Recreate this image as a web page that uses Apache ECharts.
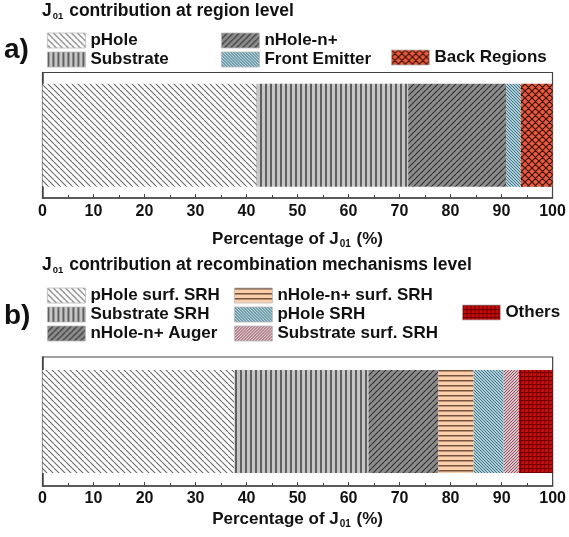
<!DOCTYPE html>
<html>
<head>
<meta charset="utf-8">
<script src="https://cdn.jsdelivr.net/npm/echarts@6/dist/echarts.min.js"></script>
<style>
  html, body { margin: 0; padding: 0; background: #fff; }
  #chart { width: 569px; height: 537px; }
</style>
</head>
<body>
<div id="chart"></div>
<script>
// Region-level breakdown of J01 (%)
const regionNames = ['pHole', 'Substrate', 'nHole-n+', 'Front Emitter', 'Back Regions'];
const regionValues = [42.0, 29.7, 19.2, 2.9, 6.2];

// Recombination-mechanism breakdown of J01 (%)
const mechNames = ['pHole surf. SRH', 'Substrate SRH', 'nHole-n+ Auger', 'nHole-n+ surf. SRH',
                   'pHole SRH', 'Substrate surf. SRH', 'Others'];
const mechValues = [37.6, 26.3, 13.7, 6.9, 5.9, 3.0, 6.6];

// Axis ticks
const axisMin = 0, axisMax = 100, axisStep = 10;

// ---- hatch fills drawn into small repeating tiles ----
function tile(size, bg, draw) {
  const c = document.createElement('canvas');
  c.width = size; c.height = size;
  const g = c.getContext('2d');
  g.fillStyle = bg; g.fillRect(0, 0, size, size);
  draw(g, size);
  return { image: c, repeat: 'repeat' };
}
function diag(dir, s, bg, fg, lw) {           // dir: 1 = '/', -1 = '\'
  return tile(s, bg, (g) => {
    g.strokeStyle = fg; g.lineWidth = lw;
    g.beginPath();
    for (let k = -1; k <= 1; k++) {
      if (dir > 0) { g.moveTo(k * s, s); g.lineTo(k * s + s, 0); }
      else { g.moveTo(k * s, 0); g.lineTo(k * s + s, s); }
    }
    g.stroke();
  });
}
function cross(s, bg, fg, lw) {
  return tile(s, bg, (g) => {
    g.strokeStyle = fg; g.lineWidth = lw;
    g.beginPath();
    for (let k = -1; k <= 1; k++) {
      g.moveTo(k * s, s); g.lineTo(k * s + s, 0);
      g.moveTo(k * s, 0); g.lineTo(k * s + s, s);
    }
    g.stroke();
  });
}
function vlines(s, bg, fg, lw) {
  return tile(s, bg, (g) => { g.fillStyle = fg; g.fillRect(0, 0, lw, s); });
}
function hlines(s, bg, fg, lw) {
  return tile(s, bg, (g) => { g.fillStyle = fg; g.fillRect(0, 0, s, lw); });
}
function grid(s, bg, fg, lw) {
  return tile(s, bg, (g) => { g.fillStyle = fg; g.fillRect(0, 0, lw, s); g.fillRect(0, 0, s, lw); });
}

const fills = {
  pHoleSurf: diag(-1, 6, '#ffffff', '#6a6a6a', 1.1),
  substrate: vlines(5, '#c6c6c6', '#606060', 2),
  nHole: diag(1, 6, '#8c8c8c', '#333333', 1.2),
  blue: diag(-1, 3, '#a9d2de', '#35545e', 0.8),
  back: cross(7, '#ea5a3c', '#3a1208', 1.2),
  peach: hlines(5, '#fbcfac', '#76523f', 1.5),
  pink: diag(1, 3, '#e6c0c8', '#63404a', 0.8),
  others: grid(4, '#c80c0c', '#720000', 1.1)
};

const regionFills = [fills.pHoleSurf, fills.substrate, fills.nHole, fills.blue, fills.back];
const mechFills = [fills.pHoleSurf, fills.substrate, fills.nHole, fills.peach, fills.blue, fills.pink, fills.others];

const FONT = 'Liberation Sans, Arial, sans-serif';

function xAxisCfg(gridIndex, nameGap, labelMargin) {
  return {
    type: 'value', gridIndex, min: axisMin, max: axisMax, interval: axisStep,
    name: '{t|Percentage of J}{s|01}{t| (%)}',
    nameLocation: 'middle', nameGap,
    nameTextStyle: {
      rich: {
        t: { fontFamily: FONT, fontSize: 17, fontWeight: 'bold', color: '#111' },
        s: { fontFamily: FONT, fontSize: 10, fontWeight: 'bold', color: '#111', padding: [9, 1, 0, 1] }
      }
    },
    axisLine: { show: true, lineStyle: { color: '#444', width: 1.5 } },
    axisTick: { show: true, inside: true, length: 4, lineStyle: { color: '#444' } },
    minorTick: { show: true, splitNumber: 2, length: 3, lineStyle: { color: '#444' } },
    splitLine: { show: false },
    axisLabel: { margin: labelMargin, fontFamily: FONT, fontSize: 16, fontWeight: 'bold', color: '#111' }
  };
}
function yAxisCfg(gridIndex) {
  return {
    type: 'category', gridIndex, data: [''],
    axisLine: { show: true, lineStyle: { color: '#444', width: 1.5 } },
    axisTick: { show: false }, axisLabel: { show: false }
  };
}

const series = [];
regionNames.forEach((n, i) => series.push({
  name: n, type: 'bar', stack: 'region', xAxisIndex: 0, yAxisIndex: 0,
  barWidth: 103, itemStyle: { color: regionFills[i] }, data: [regionValues[i]]
}));
mechNames.forEach((n, i) => series.push({
  name: n, type: 'bar', stack: 'mech', xAxisIndex: 1, yAxisIndex: 1,
  barWidth: 103, itemStyle: { color: mechFills[i] }, data: [mechValues[i]]
}));

function legendCol(data, left, top) {
  return {
    data, left, top, orient: 'vertical', itemWidth: 38, itemHeight: 15, itemGap: 2,
    icon: 'rect', selectedMode: false, padding: 0,
    itemStyle: { borderColor: '#b8b8b8', borderWidth: 0.8 },
    textStyle: { fontFamily: FONT, fontSize: 17, fontWeight: 'bold', color: '#111' }
  };
}

const titleRich = {
  t: { fontFamily: FONT, fontSize: 17.5, fontWeight: 'bold', color: '#111' },
  s: { fontFamily: FONT, fontSize: 9.5, fontWeight: 'bold', color: '#111', padding: [10, 1, 0, 1] }
};

const option = {
  animation: false,
  backgroundColor: '#fff',
  title: [
    { text: '{t|J}{s|01}{t| contribution at region level}', left: 42, top: 1, padding: 0,
      textStyle: { rich: titleRich } },
    { text: 'a)', left: 4, top: 36, padding: 0,
      textStyle: { fontFamily: FONT, fontSize: 28, fontWeight: 'bold', color: '#111' } },
    { text: '{t|J}{s|01}{t| contribution at recombination mechanisms level}', left: 42, top: 255, padding: 0,
      textStyle: { rich: titleRich } },
    { text: 'b)', left: 4, top: 302, padding: 0,
      textStyle: { fontFamily: FONT, fontSize: 28, fontWeight: 'bold', color: '#111' } }
  ],
  legend: [
    legendCol(['pHole', 'Substrate'], 47, 32),
    legendCol(['nHole-n+', 'Front Emitter'], 221, 32),
    legendCol(['Back Regions'], 391, 49),
    legendCol(['pHole surf. SRH', 'Substrate SRH', 'nHole-n+ Auger'], 47, 287),
    legendCol(['nHole-n+ surf. SRH', 'pHole SRH', 'Substrate surf. SRH'], 234, 287),
    legendCol(['Others'], 462, 304)
  ],
  grid: [
    { left: 42.5, top: 72.5, width: 510, height: 125.5, show: true, borderColor: '#444', borderWidth: 1.2 },
    { left: 42.5, top: 357, width: 514, height: 129, show: true, borderColor: '#444', borderWidth: 1.2 }
  ],
  xAxis: [xAxisCfg(0, 32, 6), xAxisCfg(1, 24, 5)],
  yAxis: [yAxisCfg(0), yAxisCfg(1)],
  series
};

const chart = echarts.init(document.getElementById('chart'), null, { renderer: 'canvas' });
chart.setOption(option);
</script>
</body>
</html>
